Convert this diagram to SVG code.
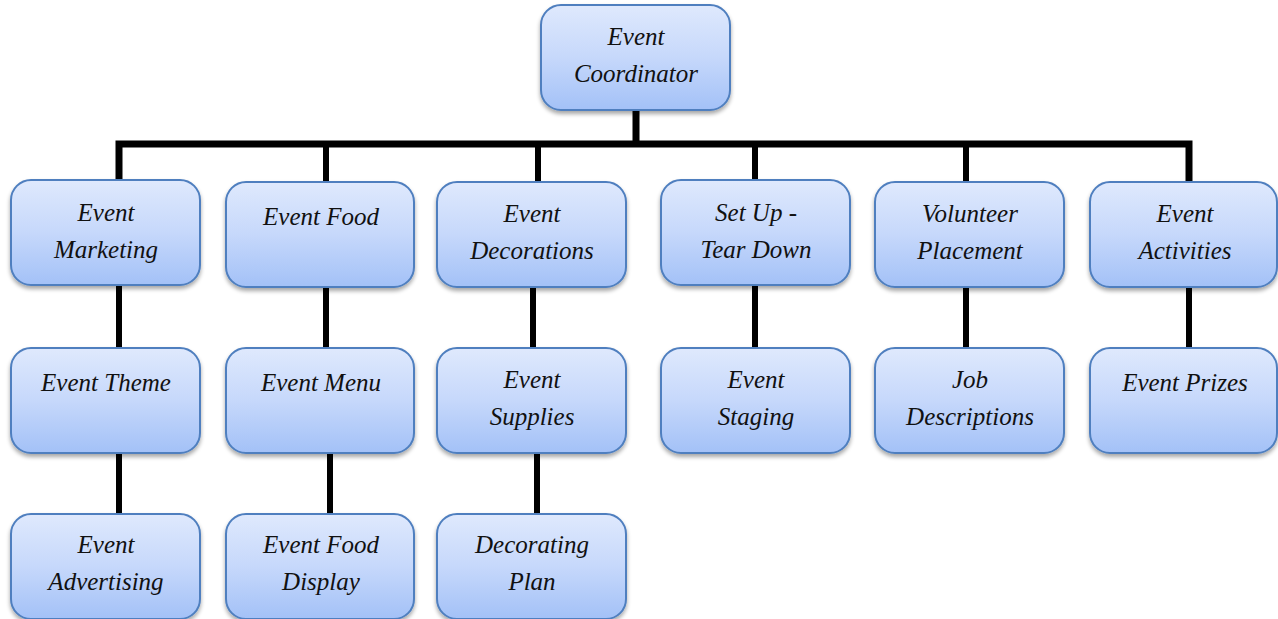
<svg xmlns="http://www.w3.org/2000/svg" width="1278" height="619" viewBox="0 0 1278 619">
<defs>
<linearGradient id="g" x1="0" y1="0" x2="0" y2="1">
<stop offset="0" stop-color="#dfe9fd"/>
<stop offset="0.5" stop-color="#c6d8fb"/>
<stop offset="1" stop-color="#a3c1f7"/>
</linearGradient>
<filter id="sh" x="-10%" y="-10%" width="120%" height="130%">
<feGaussianBlur in="SourceAlpha" stdDeviation="2"/>
<feOffset dx="0" dy="3"/>
<feComponentTransfer><feFuncA type="linear" slope="0.35"/></feComponentTransfer>
<feMerge><feMergeNode/><feMergeNode in="SourceGraphic"/></feMerge>
</filter>
</defs>
<style>
.b{fill:url(#g);stroke:#4f7fbf;stroke-width:2;filter:url(#sh)}
.t{font-family:"Liberation Serif","DejaVu Serif",serif;font-style:italic;font-size:25px;fill:#111;text-anchor:middle}
.c{stroke:#000;stroke-width:6;fill:none}
.c2{stroke:#000;stroke-width:7;fill:none}
</style>
<rect width="1278" height="619" fill="#fff"/>
<g id="connectors">
<path class="c2" d="M636 110V144M119 180V144H1189V182"/>
<path class="c" d="M326 144V182M538 144V182M755 144V180M966 144V182"/>
<path class="c" d="M119 286V348M326 287V348M533 288V348M755 286V348M966 288V348M1189 288V348"/>
<path class="c" d="M119 453V514M330 453V514M537 453V514"/>
</g>
<g id="n-coordinator"><rect class="b" x="541" y="5" width="189" height="105" rx="20"/><text class="t" x="636" y="45">Event</text><text class="t" x="636" y="82">Coordinator</text></g>
<g id="n-marketing"><rect class="b" x="11" y="180" width="189" height="105" rx="20"/><text class="t" x="106" y="221">Event</text><text class="t" x="106" y="258">Marketing</text></g>
<g id="n-food"><rect class="b" x="226" y="182" width="188" height="105" rx="20"/><text class="t" x="321" y="225">Event Food</text></g>
<g id="n-decorations"><rect class="b" x="437" y="182" width="189" height="105" rx="20"/><text class="t" x="532" y="222">Event</text><text class="t" x="532" y="259">Decorations</text></g>
<g id="n-setup"><rect class="b" x="661" y="180" width="189" height="105" rx="20"/><text class="t" x="756" y="221">Set Up -</text><text class="t" x="756" y="258">Tear Down</text></g>
<g id="n-volunteer"><rect class="b" x="875" y="182" width="189" height="105" rx="20"/><text class="t" x="970" y="222">Volunteer</text><text class="t" x="970" y="259">Placement</text></g>
<g id="n-activities"><rect class="b" x="1090" y="182" width="187" height="105" rx="20"/><text class="t" x="1185" y="222">Event</text><text class="t" x="1185" y="259">Activities</text></g>
<g id="n-theme"><rect class="b" x="11" y="348" width="189" height="105" rx="20"/><text class="t" x="106" y="391">Event Theme</text></g>
<g id="n-menu"><rect class="b" x="226" y="348" width="188" height="105" rx="20"/><text class="t" x="321" y="391">Event Menu</text></g>
<g id="n-supplies"><rect class="b" x="437" y="348" width="189" height="105" rx="20"/><text class="t" x="532" y="388">Event</text><text class="t" x="532" y="425">Supplies</text></g>
<g id="n-staging"><rect class="b" x="661" y="348" width="189" height="105" rx="20"/><text class="t" x="756" y="388">Event</text><text class="t" x="756" y="425">Staging</text></g>
<g id="n-job"><rect class="b" x="875" y="348" width="189" height="105" rx="20"/><text class="t" x="970" y="388">Job</text><text class="t" x="970" y="425">Descriptions</text></g>
<g id="n-prizes"><rect class="b" x="1090" y="348" width="187" height="105" rx="20"/><text class="t" x="1185" y="391">Event Prizes</text></g>
<g id="n-advertising"><rect class="b" x="11" y="514" width="189" height="105" rx="20"/><text class="t" x="106" y="553">Event</text><text class="t" x="106" y="590">Advertising</text></g>
<g id="n-fooddisplay"><rect class="b" x="226" y="514" width="188" height="105" rx="20"/><text class="t" x="321" y="553">Event Food</text><text class="t" x="321" y="590">Display</text></g>
<g id="n-plan"><rect class="b" x="437" y="514" width="189" height="105" rx="20"/><text class="t" x="532" y="553">Decorating</text><text class="t" x="532" y="590">Plan</text></g>
</svg>
